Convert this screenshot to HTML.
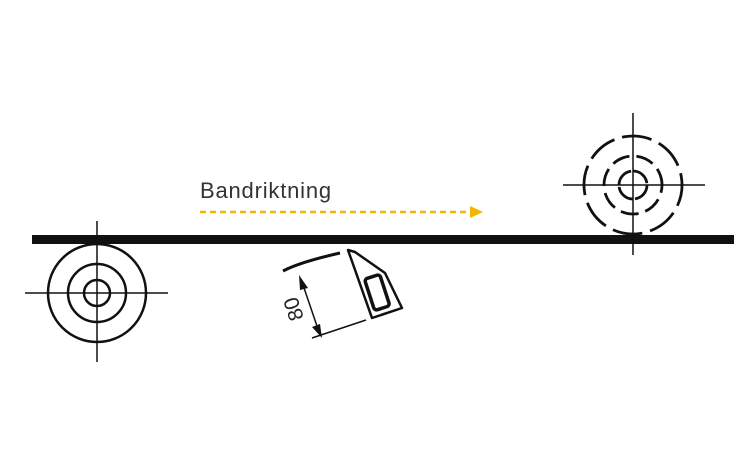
<!DOCTYPE html><html><head><style>body{margin:0;background:#fff}svg{display:block}</style></head><body>
<svg width="750" height="462" viewBox="0 0 750 462" xmlns="http://www.w3.org/2000/svg">
<rect x="32" y="235" width="702" height="9" fill="#111"/>
<g stroke="#111" fill="none">
<circle cx="97" cy="293" r="49" stroke-width="2.5"/>
<circle cx="97" cy="293" r="29" stroke-width="2.5"/>
<circle cx="97" cy="293" r="13" stroke-width="2.5"/>
<line x1="25" y1="293" x2="168" y2="293" stroke-width="1.5"/>
<line x1="97" y1="221" x2="97" y2="362" stroke-width="1.5"/>
<circle cx="633" cy="185" r="49" stroke-width="2.8" stroke-dasharray="30 8" transform="rotate(-10 633 185)"/>
<circle cx="633" cy="185" r="29" stroke-width="2.8" stroke-dasharray="18 7" transform="rotate(-20 633 185)"/>
<circle cx="633" cy="185" r="14" stroke-width="2.8" stroke-dasharray="20 2"/>
<line x1="563" y1="185" x2="705" y2="185" stroke-width="1.5"/>
<line x1="633" y1="113" x2="633" y2="255" stroke-width="1.5"/>
<path d="M283 271 Q300 262 340 253" stroke-width="3"/>
<path d="M348 250 L372 318 L402 308 L385 273 L355 252 Z" stroke-width="2.5" stroke-linejoin="round"/>
<rect x="369" y="276" width="16" height="33" rx="3" stroke-width="3.5" transform="rotate(-18 377 292)"/>
<line x1="312" y1="338" x2="366" y2="320" stroke-width="1.5"/>
<line x1="302" y1="282" x2="319" y2="332" stroke-width="1.5"/>
</g>
<path d="M299 275 L308 288 L300 290 Z M322 338 L312 327 L320 324 Z" fill="#111"/>
<text x="0" y="0" font-family="Liberation Sans, sans-serif" font-size="21" fill="#222" transform="translate(304 318) rotate(-108)">80</text>
<line x1="200" y1="212" x2="470" y2="212" stroke="#f2b500" stroke-width="2.5" stroke-dasharray="6 4"/>
<path d="M470 206 L483 212 L470 218 Z" fill="#f2b500"/>
<text x="200" y="198" font-family="Liberation Sans, sans-serif" font-size="22" letter-spacing="0.8" fill="#333">Bandriktning</text>
</svg>
</body></html>
